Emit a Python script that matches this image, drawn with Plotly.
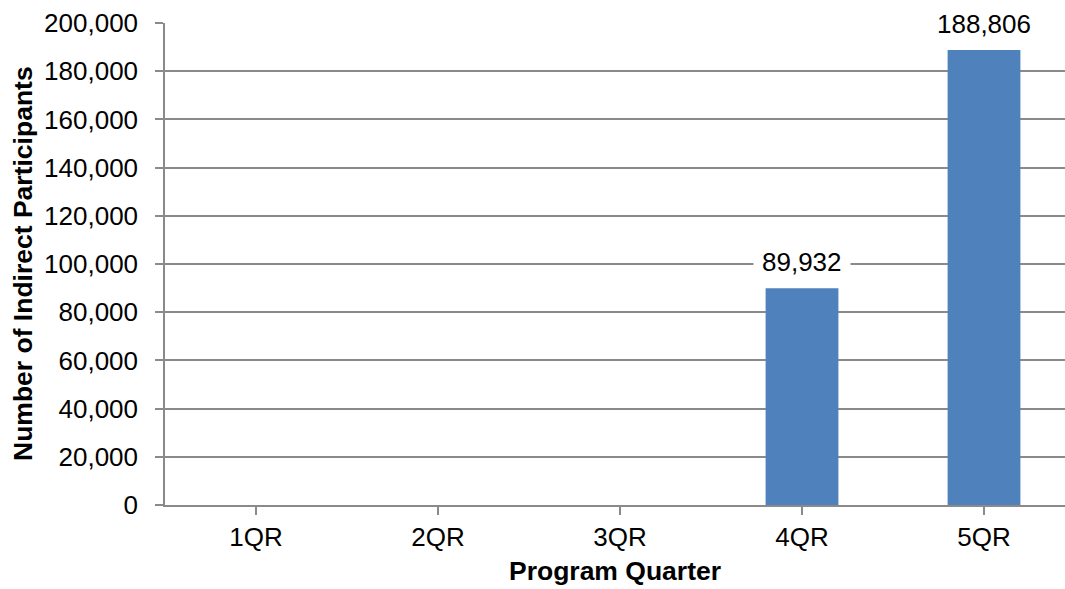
import plotly.graph_objects as go

# chart data
quarters = ["1QR", "2QR", "3QR", "4QR", "5QR"]
participants = [0, 0, 0, 89932, 188806]
y_ticks = list(range(0, 200001, 20000))

bar_color = "#4F81BD"
line_color = "#8A8A8A"
font_family = "Liberation Sans, Arial, sans-serif"

fig = go.Figure()
fig.add_trace(
    go.Bar(
        x=list(range(len(quarters))),
        y=participants,
        marker=dict(color=bar_color, line=dict(width=0)),
        width=0.4,
        hoverinfo="skip",
    )
)

# value labels with white boxes sitting over the grid lines
for i, v in enumerate(participants):
    if v > 0:
        fig.add_annotation(
            x=i,
            y=v,
            text=f"{v:,}",
            showarrow=False,
            yshift=26,
            bgcolor="white",
            borderpad=8,
            font=dict(size=26, color="black", family=font_family),
        )

# y title placed by hand so it sits near the left edge
fig.add_annotation(
    x=(23 - 165) / (1065 - 165),
    xref="paper",
    xanchor="center",
    y=0.5,
    yref="paper",
    yanchor="middle",
    text="<b>Number of Indirect Participants</b>",
    textangle=-90,
    showarrow=False,
    font=dict(size=26.5, color="black", family=font_family),
)

fig.update_xaxes(
    range=[-0.5, 4.445],
    tickmode="array",
    tickvals=list(range(len(quarters))),
    ticktext=quarters,
    tickson="boundaries",
    ticks="outside",
    ticklen=8,
    tickcolor=line_color,
    tickwidth=1.5,
    showline=True,
    linecolor=line_color,
    linewidth=1.5,
    showgrid=False,
    title=dict(text="<b>Program Quarter</b>", standoff=10, font=dict(size=26.5)),
    tickfont=dict(size=26, color="black"),
)
fig.update_yaxes(
    range=[0, 200000],
    tickmode="array",
    tickvals=y_ticks,
    ticktext=[f"{t:,}" for t in y_ticks],
    ticks="outside",
    ticklen=8,
    tickcolor=line_color,
    tickwidth=1.5,
    ticklabelstandoff=12,
    showline=True,
    linecolor=line_color,
    linewidth=1.5,
    showgrid=True,
    gridcolor=line_color,
    gridwidth=1.5,
    zeroline=False,
    tickfont=dict(size=26, color="black"),
)
fig.update_layout(
    width=1065,
    height=589,
    margin=dict(l=165, r=0, t=23, b=84),
    plot_bgcolor="white",
    paper_bgcolor="white",
    showlegend=False,
    font=dict(family=font_family, size=26, color="black"),
)

fig.write_html(
    "out.html",
    config={"displayModeBar": False},
    post_script="document.body.style.margin='0';document.body.style.overflow='hidden';",
)
